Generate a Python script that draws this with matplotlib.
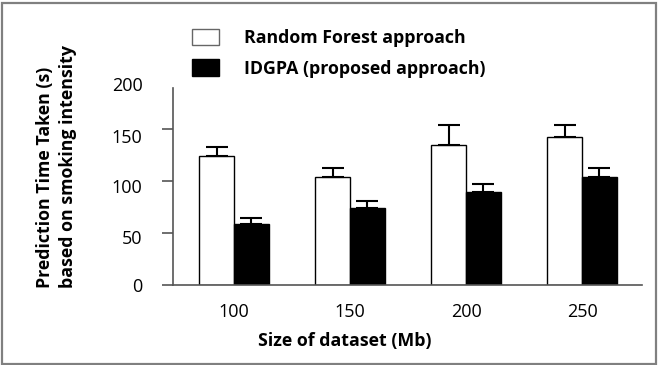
import matplotlib
matplotlib.use("Agg")
import matplotlib.pyplot as plt
from matplotlib.patches import Rectangle
from matplotlib.transforms import ScaledTranslation
import numpy as np

categories = ["100", "150", "200", "250"]
rf_values = [124, 104, 135, 142]
rf_err = [9, 8.5, 19, 12]
idgpa_values = [59, 74, 89.5, 104]
idgpa_err = [5, 7, 7.5, 8.5]
series_names = ["Random Forest approach", "IDGPA (proposed approach)"]
y_ticks = [0, 50, 100, 150, 200]

plt.rcParams['font.family'] = ['Open Sans', 'DejaVu Sans']

W, H = 658, 365
fig = plt.figure(figsize=(W / 100, H / 100), dpi=100)
ax = fig.add_axes([173 / W, (H - 285) / H, (642 - 173) / W, (285 - 77) / H])

x = np.arange(len(categories))
bw = 0.30
ekw = dict(ecolor="black", elinewidth=1.5, capsize=8, capthick=1.5)
b1 = ax.bar(x - bw / 2, rf_values, bw, color="white", edgecolor="black", linewidth=1.0,
            yerr=[np.zeros(len(rf_err)), rf_err], error_kw=ekw, label=series_names[0])
b2 = ax.bar(x + bw / 2, idgpa_values, bw, color="black", edgecolor="black", linewidth=1.0,
            yerr=[np.zeros(len(idgpa_err)), idgpa_err], error_kw=ekw, label=series_names[1])

ax.set_xlim(-0.526, 3.517)
ax.set_ylim(0, 200)
ax.set_xticks(x)
ax.set_xticklabels(categories, fontsize=13)
ax.set_yticks(y_ticks)
ax.set_yticklabels([str(v) for v in y_ticks], fontsize=13)
ax.tick_params(axis="x", length=0, pad=13)
ax.tick_params(axis="y", length=8, width=1.2, color="#555555", pad=14)
ax.yaxis.get_major_ticks()[-1].tick1line.set_visible(False)
label_shift_px = [0, -4, -5, -7, -7]
for lbl, d in zip(ax.get_yticklabels(), label_shift_px):
    lbl.set_transform(lbl.get_transform() + ScaledTranslation(0, d / 100, fig.dpi_scale_trans))
for s in ["top", "right"]:
    ax.spines[s].set_visible(False)
for s in ["left", "bottom"]:
    ax.spines[s].set_color("#555555")
    ax.spines[s].set_linewidth(1.2)
ax.spines["left"].set_bounds(0, 189)

fig.text(345 / W, (H - 341) / H, "Size of dataset (Mb)", ha="center", va="center",
         fontsize=12.8, fontweight="bold")
fig.text(45 / W, (H - 288) / H, "Prediction Time Taken (s)", rotation=90, ha="center", va="bottom",
         fontsize=12.8, fontweight="bold")
fig.text(68 / W, (H - 288) / H, "based on smoking intensity", rotation=90, ha="center", va="bottom",
         fontsize=12.8, fontweight="bold")

leg = fig.legend(handles=[b1, b2], labels=series_names, loc="upper left",
                 bbox_to_anchor=(176 / W, (H - 13) / H), frameon=False,
                 prop=dict(size=12.8, weight="bold"), handlelength=1.5, handleheight=1.05,
                 handletextpad=1.45, labelspacing=0.68)
for h in leg.legend_handles:
    h.set_linewidth(1.0)
leg.legend_handles[0].set_edgecolor("#666666")

fig.patches.append(Rectangle((1.5 / W, 1.5 / H), (W - 4) / W, (H - 4) / H, transform=fig.transFigure,
                             fill=False, edgecolor="#808080", linewidth=1.6))

fig.savefig("out.png", dpi=100)
